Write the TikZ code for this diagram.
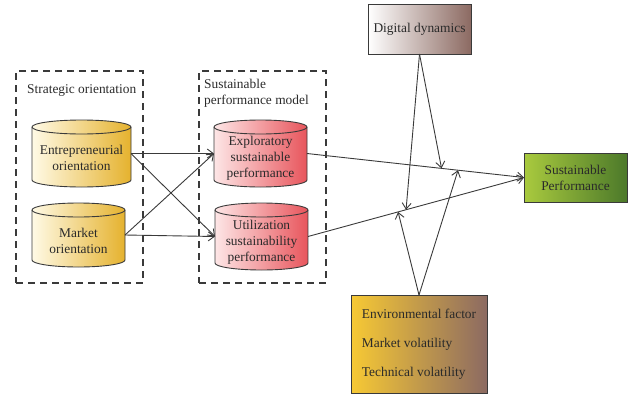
\documentclass[tikz,border=0pt]{standalone}
\usepackage{fontspec}
\setmainfont{Liberation Serif}
\usetikzlibrary{calc,arrows.meta}
\definecolor{bd}{HTML}{3A3A3A}
\definecolor{txt}{HTML}{2A2A2A}
\definecolor{yl}{HTML}{FFFAE6}
\definecolor{yr}{HTML}{E5B22E}
\definecolor{rl}{HTML}{FDE6E6}
\definecolor{rr}{HTML}{E8555C}
\definecolor{brn}{HTML}{8C6A62}
\definecolor{gl}{HTML}{A9CA3E}
\definecolor{gr}{HTML}{4C792A}
\definecolor{envl}{HTML}{F7C934}
\newcommand\drawcyl[3]{%
  \path let \p1=(#1.north west), \p2=(#1.south east), \n1={(\x2-\x1)/2} in
    [draw=bd, line width=0.9pt, left color=#2, right color=#3]
    (\x1,\y1-7pt) -- (\x1,\y2+7pt)
    arc[start angle=180,end angle=360,x radius=\n1,y radius=7pt]
    -- (\x2,\y1-7pt)
    arc[start angle=0,end angle=180,x radius=\n1,y radius=7pt] -- cycle;
  \path let \p1=(#1.north west), \p2=(#1.south east), \n1={(\x2-\x1)/2} in
    [draw=bd, line width=0.9pt]
    (\x1,\y1-7pt) arc[start angle=180,end angle=360,x radius=\n1,y radius=7pt];
}
\tikzset{
  every node/.style={font=\fontsize{13.4}{16}\selectfont, text=txt},
  cylbox/.style={rectangle, inner sep=0pt, outer sep=0pt},
  cyltext/.style={align=center, inner sep=0pt},
  frame/.style={draw=bd, dash pattern=on 7pt off 5pt, line width=1.2pt, rectangle, inner sep=0pt, outer sep=0pt},
  box/.style={draw=bd, line width=1pt, rectangle, inner sep=0pt, outer sep=0pt, align=center},
  arr/.style={draw=bd, line width=0.9pt, -{Straight Barb[length=6pt,width=9pt]}},
}
\begin{document}
\begin{tikzpicture}[x=1pt,y=-1pt]
\useasboundingbox (0,0) rectangle (637,394);
% frames
\node[frame, minimum width=127pt, minimum height=212pt] (f1) at (79.5,177) {};
\node[frame, minimum width=127pt, minimum height=212pt] (f2) at (262.5,177) {};
\node[anchor=west, inner sep=0pt] (l1) at (27,91) {Strategic orientation};
\node[anchor=north west, align=left, inner sep=0pt] (l2) at (204,79) {Sustainable\\performance model};
% cylinders
\node[cylbox, minimum width=99pt, minimum height=67pt] (eo) at (81.5,153.5) {};
\node[cylbox, minimum width=93pt, minimum height=64pt] (mo) at (78.5,235) {};
\node[cylbox, minimum width=93pt, minimum height=67pt] (esp) at (260.5,153.5) {};
\node[cylbox, minimum width=93pt, minimum height=67pt] (usp) at (261.5,236.5) {};
\drawcyl{eo}{yl}{yr}
\drawcyl{mo}{yl}{yr}
\drawcyl{esp}{rl}{rr}
\drawcyl{usp}{rl}{rr}
\node[cyltext] (teo) at ([yshift=-4.5pt]eo.center) {Entrepreneurial\\orientation};
\node[cyltext] (tmo) at ([yshift=-6pt]mo.center) {Market\\orientation};
\node[cyltext] (tesp) at ([yshift=-4.5pt]esp.center) {Exploratory\\sustainable\\performance};
\node[cyltext] (tusp) at ([yshift=-5.5pt]usp.center) {Utilization\\sustainability\\performance};
% boxes
\node[box, left color=white, right color=brn, minimum width=103pt, minimum height=50pt] (dd) at (419.5,29) {Digital dynamics};
\node[box, left color=gl, right color=gr, minimum width=103pt, minimum height=49pt] (sp) at (575.5,177.5) {Sustainable\\Performance};
\node[box, left color=envl, right color=brn, minimum width=136pt, minimum height=98pt, align=left, font=\fontsize{13.4}{29}\selectfont] (env) at (419,344) {Environmental factor\\Market volatility\\Technical volatility};
% arrows
\draw[arr] (eo.east) -- (esp.west);
\draw[arr] (eo.east) -- (usp.west);
\draw[arr] (mo.east) -- (esp.west);
\draw[arr] (mo.east) -- (usp.west);
\draw[arr] (esp.east) -- (sp.west);
\draw[arr] (usp.east) -- (sp.west);
\coordinate (u1) at ($(esp.east)!0.62!(sp.west)$);
\coordinate (u2) at ($(esp.east)!0.696!(sp.west)$);
\coordinate (d1) at ($(usp.east)!0.454!(sp.west)$);
\coordinate (d2) at ($(usp.east)!0.417!(sp.west)$);
\draw[arr] (dd.south) -- (u1);
\draw[arr] (dd.south) -- (d1);
\draw[arr] (env.north) -- (d2);
\draw[arr] (env.north) -- (u2);
\end{tikzpicture}
\end{document}
